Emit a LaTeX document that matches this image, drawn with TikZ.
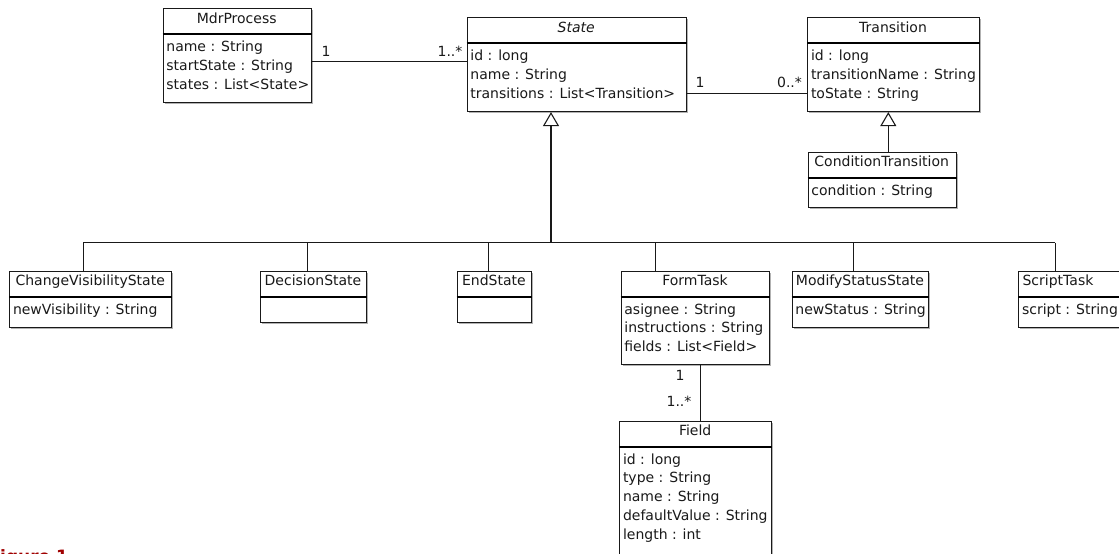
\documentclass[tikz,border=0pt]{standalone}
\usepackage{fontspec}
\setmainfont{DejaVu Sans}
\usetikzlibrary{arrows.meta,shadows}
\definecolor{figred}{HTML}{A00000}
\newcommand{\uclass}[8]{% name,left,top,right,bottom,titlex,title,attrs
  \node[classbox, anchor=north west, minimum width=#4-#2, minimum height=#5-#3] (#1) at (#2,#3) {};
  \draw[divider] ([yshift=-26pt]#1.north west) -- ([yshift=-26pt]#1.north east);
  \node[txt, anchor=base] (#1-t) at (#6,#3+15) {#7};
  \foreach \a [count=\i] in {#8} {\node[txt, anchor=base west] (#1-\i) at (#2+3.5,#3+43.4+18.8*\i-18.8) {\a};}
}
\begin{document}
\begin{tikzpicture}[x=1pt,y=-1pt,
  classbox/.style={draw=black!90, line width=1.1pt, fill=white, inner sep=0pt,
    drop shadow={shadow xshift=1.3pt, shadow yshift=-1.3pt, opacity=0.3, fill=black}},
  divider/.style={line width=2.2pt, draw=black},
  txt/.style={inner sep=0pt, font=\fontsize{14}{16}\selectfont, text=black!90},
  conn/.style={line width=1pt, draw=black!90},
  gentip/.style={conn, -{Triangle[open, length=14pt, width=16pt, line width=1.1pt]}},
  mult/.style={txt, anchor=center},
]
\useasboundingbox (0,0) rectangle (1119,554);
\clip (0,0) rectangle (1119,554);

\uclass{mdr}{162.7}{8.3}{310.7}{101.7}{236.7}{MdrProcess}{name : String, startState : String, states : List<State>}
\uclass{state}{466.7}{17.3}{685.7}{111}{576.2}{\itshape State}{id : long, name : String, transitions : List<Transition>}
\uclass{transition}{807.3}{17.3}{979}{111}{893}{Transition}{id : long, transitionName : String, toState : String}
\uclass{cond}{807.7}{151.7}{955.7}{207.3}{881.7}{ConditionTransition}{condition : String}
\uclass{cvs}{9.3}{270.7}{171}{326.7}{90.2}{ChangeVisibilityState}{newVisibility : String}
\uclass{dec}{260}{270.7}{366}{322.3}{313}{DecisionState}{}
\uclass{endst}{456.7}{270.7}{531}{322.3}{493.9}{EndState}{}
\uclass{form}{620.7}{270.7}{769.3}{364.3}{695}{FormTask}{asignee : String, instructions : String, fields : List<Field>}
\uclass{mod}{791.7}{270.7}{928.3}{326.7}{860}{ModifyStatusState}{newStatus : String}
\uclass{script}{1018.3}{270.7}{1125}{326.7}{1058}{ScriptTask}{script : String}
\uclass{field}{619.3}{420.7}{771}{560}{695.2}{Field}{id : long, type : String, name : String, defaultValue : String, length : int}

\coordinate (lvA) at (0,61.7);
\coordinate (lvB) at (0,93.3);
\coordinate (bar) at (0,242.7);
\coordinate (gx) at (551,0);
\coordinate (gx2) at (888.3,0);
\coordinate (fx) at (700,0);
\coordinate (d1) at (83.3,0);
\coordinate (d2) at (307.7,0);
\coordinate (d3) at (488.3,0);
\coordinate (d5) at (655,0);
\coordinate (d6) at (853.3,0);
\coordinate (d7) at (1055.3,0);

\draw[conn] (mdr.east |- lvA) -- (state.west |- lvA);
\draw[conn] (state.east |- lvB) -- (transition.west |- lvB);
\draw[gentip, line width=1.8pt] (bar -| gx) -- (state.south -| gx);
\draw[conn, line width=1.3pt] (bar -| d1) -- (bar -| d7);
\foreach \n/\d in {cvs/d1, dec/d2, endst/d3, form/d5, mod/d6, script/d7}
  \draw[conn] (bar -| \d) -- (\n.north -| \d);
\draw[gentip] (cond.north -| gx2) -- (transition.south -| gx2);
\draw[conn] (form.south -| fx) -- (field.north -| fx);

\node[mult] (m1) at (326,51.5) {1};
\node[mult] (m2) at (450,51) {1..*};
\node[mult] (m3) at (700,82.7) {1};
\node[mult] (m4) at (789.5,82) {0..*};
\node[mult] (m5) at (680,375.7) {1};
\node[mult] (m6) at (679,401) {1..*};

\node[inner sep=0pt, anchor=base west, text=figred, font=\bfseries\fontsize{17}{17}\selectfont] (fig) at (0,562.5) {igure 1};
\end{tikzpicture}
\end{document}
